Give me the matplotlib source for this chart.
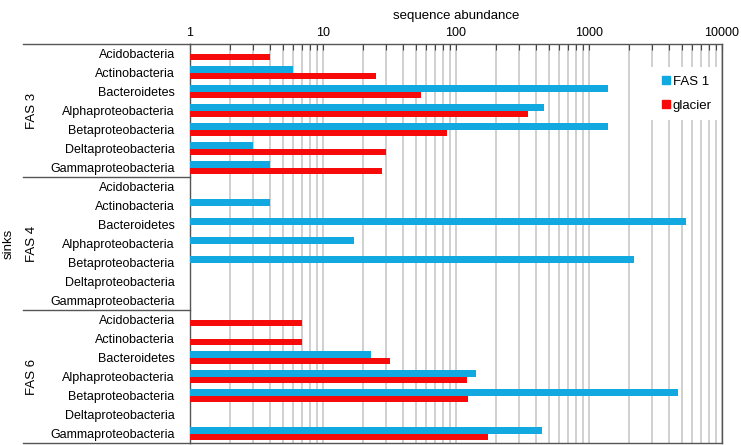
import matplotlib
matplotlib.use("Agg")
import matplotlib.pyplot as plt
from matplotlib.lines import Line2D
from matplotlib.ticker import FixedLocator, LogLocator, NullFormatter, FixedFormatter
import numpy as np

plt.rcParams['font.family'] = ['Liberation Sans', 'DejaVu Sans']

taxa = ["Acidobacteria", "Actinobacteria", "Bacteroidetes", "Alphaproteobacteria",
        "Betaproteobacteria", "Deltaproteobacteria", "Gammaproteobacteria"]
groups = ["FAS 3", "FAS 4", "FAS 6"]

# values per group (0 = no bar)
fas1_fas3 = [0, 6, 1400, 460, 1380, 3, 4]
glacier_fas3 = [4, 25, 55, 345, 85, 30, 28]
fas1_fas4 = [0, 4, 5400, 17, 2170, 0, 0]
glacier_fas4 = [0, 0, 0, 0, 0, 0, 0]
fas1_fas6 = [0, 0, 23, 141, 4700, 0, 440]
glacier_fas6 = [7, 7, 32, 122, 124, 0, 173]

fas1 = fas1_fas3 + fas1_fas4 + fas1_fas6
glacier = glacier_fas3 + glacier_fas4 + glacier_fas6
labels = taxa * 3

blue = "#12a9e1"
red = "#f70a0a"

W, H = 741, 445
fig = plt.figure(figsize=(W/100, H/100), dpi=100)
L, R, T, B = 190, 722, 44, 443
ax = fig.add_axes([L/W, 1-B/H, (R-L)/W, (B-T)/H])

n = len(labels)
y = np.arange(n)
h = 0.36
for i in range(n):
    if fas1[i] > 0:
        ax.barh(y[i] - h/2, fas1[i] - 1, left=1, height=h, color=blue, edgecolor="none", zorder=3)
    if glacier[i] > 0:
        ax.barh(y[i] + h/2, glacier[i] - 1, left=1, height=h, color=red, edgecolor="none", zorder=3)

ax.set_xscale("log")
ax.set_xlim(1, 10000)
ax.set_ylim(n - 0.5, -0.5)

ax.xaxis.set_major_locator(FixedLocator([1, 10, 100, 1000, 10000]))
ax.xaxis.set_major_formatter(FixedFormatter(["1", "10", "100", "1000", "10000"]))
ax.xaxis.set_minor_locator(LogLocator(base=10, subs=np.arange(2, 10), numticks=20))
ax.xaxis.set_minor_formatter(NullFormatter())
ax.xaxis.tick_top()
ax.xaxis.set_label_position("top")
ax.tick_params(axis="x", which="both", direction="in", length=4, width=0.8,
               color="#444444", labelsize=9, pad=3.5, top=True, bottom=False)
ax.set_xlabel("sequence abundance", fontsize=9.5, labelpad=5.5)
ax.grid(axis="x", which="both", color="#c4c4c4", linewidth=1.1, zorder=0)

ax.set_yticks(y)
ax.set_yticklabels(labels, fontsize=9)
ax.tick_params(axis="y", length=0, pad=11)

for s in ["top", "bottom", "left", "right"]:
    ax.spines[s].set_color("#555555")
    ax.spines[s].set_linewidth(1.0)

# group separators extending to the left
x_left = (23 - L) / (R - L)
for b in [-0.5, 6.5, 13.5, 20.5]:
    ax.plot([x_left, 0], [b, b], transform=ax.get_yaxis_transform(),
            color="#555555", lw=1.0, clip_on=False)
for gi, g in enumerate(groups):
    ax.text((32 - L) / (R - L), gi * 7 + 3, g, rotation=90, ha="center", va="center",
            fontsize=9.5, transform=ax.get_yaxis_transform())
ax.text((9 - L) / (R - L), 10, "sinks", rotation=90, ha="center", va="center",
        fontsize=9.5, transform=ax.get_yaxis_transform())

handles = [Line2D([], [], marker="s", linestyle="none", color=blue, markersize=6),
           Line2D([], [], marker="s", linestyle="none", color=red, markersize=6)]
leg = ax.legend(handles, ["FAS 1", "glacier"], loc="upper left", bbox_to_anchor=(0.855, 0.958),
                frameon=True, fontsize=9.5, handletextpad=0.0, labelspacing=0.9,
                borderpad=0.6, handlelength=1.0, fancybox=False)
leg.get_frame().set_edgecolor("none")
leg.get_frame().set_facecolor("white")
leg.get_frame().set_alpha(1)
leg.set_zorder(5)

fig.savefig("out.png", dpi=100)
